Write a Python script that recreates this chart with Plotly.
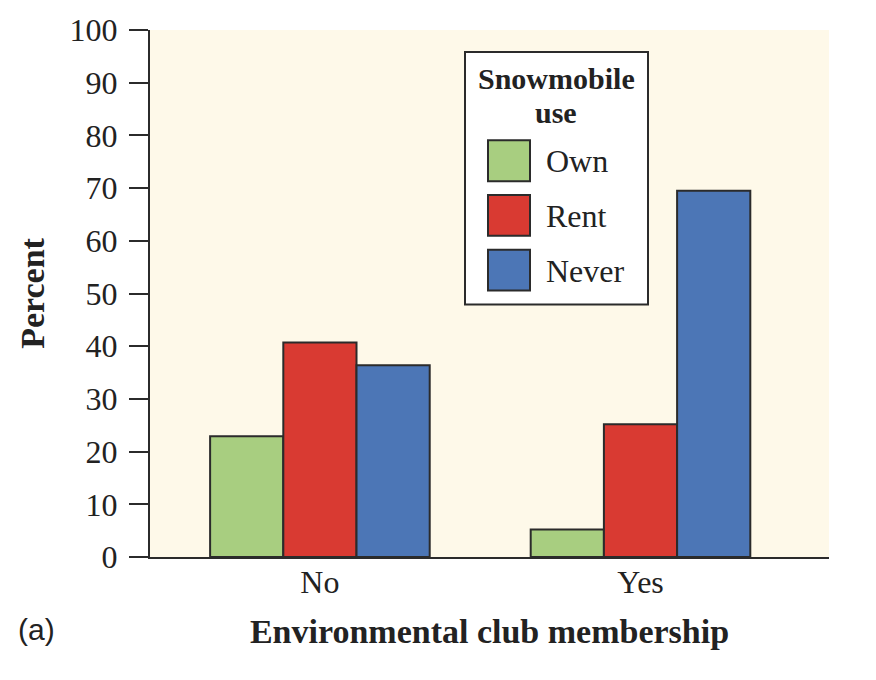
import plotly.graph_objects as go

categories = ["No", "Yes"]
series_names = ["Own", "Rent", "Never"]
own = [22.9, 5.2]
rent = [40.7, 25.2]
never = [36.4, 69.5]
values = [own, rent, never]
colors = ["#A8CE80", "#D93A32", "#4C76B6"]
ytick_vals = list(range(0, 101, 10))

W, H = 876, 680
L, R, T, B = 150, 47, 27, 123
pw, ph = W - L - R, H - T - B

def px(x):
    return (x - L) / pw

def py(y):
    return (H - B - y) / ph

serif = "Liberation Serif, Times New Roman, serif"
dark = "#2b2b2b"
txt = "#222"

fig = go.Figure()
for name, vals, col in zip(series_names, values, colors):
    fig.add_trace(go.Bar(
        x=[0, 1], y=vals, name=name,
        marker=dict(color=col, line=dict(color=dark, width=2)),
        showlegend=False, hoverinfo="skip",
    ))

fig.update_layout(
    width=W, height=H,
    margin=dict(l=L, r=R, t=T, b=B),
    paper_bgcolor="white",
    plot_bgcolor="#FEF9E9",
    barmode="group", bargap=0.315, bargroupgap=0,
    font=dict(family=serif, color=txt, size=32),
)
fig.update_xaxes(
    range=[-0.53, 1.588], tickmode="array", tickvals=[0, 1], ticktext=categories,
    showline=True, linewidth=2, linecolor=dark, ticks="", showgrid=False, zeroline=False,
    tickfont=dict(size=32, family=serif), ticklabelstandoff=-4,
    title=dict(text="<b>Environmental club membership</b>", font=dict(size=34, family=serif), standoff=20),
)
fig.update_yaxes(
    range=[0, 100], tickmode="array", tickvals=ytick_vals,
    showline=True, linewidth=2, linecolor=dark, ticks="outside", ticklen=19, tickwidth=2, tickcolor=dark,
    showgrid=False, zeroline=False,
    tickfont=dict(size=32, family=serif), ticklabelstandoff=5,
    title=dict(text="<b>Percent</b>", font=dict(size=34, family=serif), standoff=15),
)

# legend box
shapes = [dict(type="rect", xref="paper", yref="paper",
               x0=px(465), x1=px(648), y0=py(49), y1=py(303),
               fillcolor="white", line=dict(color=dark, width=2), layer="above")]
ann = [dict(text="<b>Snowmobile</b>", x=px(556), y=py(76), xref="paper", yref="paper",
            xanchor="center", yanchor="middle",
            showarrow=False, font=dict(size=30, family=serif, color=txt)),
       dict(text="<b>use</b>", x=px(556), y=py(110), xref="paper", yref="paper",
            xanchor="center", yanchor="middle",
            showarrow=False, font=dict(size=30, family=serif, color=txt))]
row_tops = [138, 193, 248]
for name, col, top in zip(series_names, colors, row_tops):
    shapes.append(dict(type="rect", xref="paper", yref="paper",
                       x0=px(488), x1=px(530), y0=py(top), y1=py(top + 41),
                       fillcolor=col, line=dict(color=dark, width=2), layer="above"))
    ann.append(dict(text=name, x=px(544), y=py(top + 21), xref="paper", yref="paper",
                    xanchor="left", yanchor="middle", showarrow=False,
                    font=dict(size=32, family=serif, color=txt)))
ann.append(dict(text="(a)", x=px(16), y=py(630), xref="paper", yref="paper",
                xanchor="left", yanchor="middle", showarrow=False,
                font=dict(size=30, family="Liberation Sans Narrow, Liberation Sans, Arial", color=txt)))
fig.update_layout(shapes=shapes, annotations=ann)

fig.write_html("out.html", config={"displayModeBar": False},
               post_script="document.body.style.margin='0';")
